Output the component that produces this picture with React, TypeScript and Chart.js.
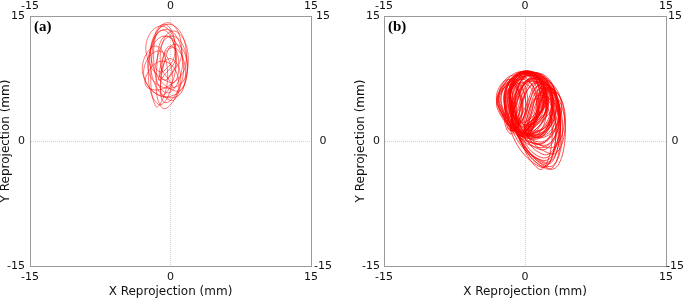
import React, { useEffect, useRef } from "react";
import { Chart, registerables } from "chart.js";

Chart.register(...registerables);

// Axis ticks
const tickValues = [-15, 0, 15];
const axisMin = -15;
const axisMax = 15;
const xTitle = "X Reprojection (mm)";
const yTitle = "Y Reprojection (mm)";

// Panel (a) trajectory (mm): each loop bottom, right, top, left
const aX = [
  -0.3, 1.2, -0.3, -1.8,
  -0.5, 1.3, -0.5, -2.3,
  -1.3, 0.2, -1.3, -2.8,
  0.1, 1.8, 0.1, -1.6,
  -0.7, 0.5, -0.7, -1.9,
  -1.6, -0.3, -1.6, -2.9,
  0.2, 1.6, 0.2, -1.2,
  -0.4, 0.6, -0.4, -1.4,
  -0.9, 0.9, -0.9, -2.7,
  -0.2, 1.7, -0.2, -2.1,
  0.5, 1.8, 0.5, -0.8,
  -0.8, 0.6, -0.8, -2.2,
  -0.1, 1.1, -0.1, -1.3,
  -1.0, 0.6, -1.0, -2.6,
  0.0, 0.9, 0.0, -0.9,
  -0.6, 1.4, -0.6, -2.4,
  0.3, 1.9, 0.3, -1.1,
  0.3,
];
const aY = [
  7.4, 10.8, 14.2, 10.8,
  5.8, 9.6, 13.4, 9.6,
  4.4, 7.6, 10.8, 7.6,
  5.4, 9.0, 12.6, 9.0,
  8.4, 11.2, 14.0, 11.2,
  4.2, 7.8, 11.4, 7.8,
  5.2, 8.2, 11.2, 8.2,
  7.4, 10.0, 12.6, 10.0,
  4.0, 6.8, 9.6, 6.8,
  6.6, 10.3, 14.0, 10.3,
  6.0, 8.8, 11.6, 8.8,
  5.5, 9.4, 13.3, 9.4,
  4.9, 7.4, 9.9, 7.4,
  7.4, 10.6, 13.8, 10.6,
  7.0, 9.2, 11.4, 9.2,
  4.6, 8.6, 12.6, 8.6,
  6.4, 9.8, 13.2, 9.8,
  6.4,
];

// Panel (b) trajectory (mm)
const bX = [
  0.3, 2.3, 0.3, -1.7,
  0.8, 3.0, 0.8, -1.4,
  -0.2, 1.7, -0.2, -2.1,
  1.2, 3.2, 1.2, -0.8,
  -1.5, -0.3, -1.5, -2.7,
  0.5, 2.8, 0.5, -1.8,
  2.0, 3.8, 2.0, 0.2,
  0.0, 2.0, 0.0, -2.0,
  1.0, 3.1, 1.0, -1.1,
  -1.4, 0.1, -1.4, -2.9,
  0.6, 3.0, 0.6, -1.8,
  2.3, 4.0, 2.3, 0.6,
  0.2, 2.0, 0.2, -1.6,
  1.4, 3.6, 1.4, -0.8,
  -0.5, 1.5, -0.5, -2.5,
  0.9, 2.9, 0.9, -1.1,
  1.8, 3.8, 1.8, -0.2,
  0.1, 2.2, 0.1, -2.0,
  -1.6, -0.3, -1.6, -2.9,
  0.7, 2.9, 0.7, -1.5,
  2.5, 4.3, 2.5, 0.7,
  0.4, 2.4, 0.4, -1.6,
  1.1, 3.4, 1.1, -1.2,
  -0.3, 1.5, -0.3, -2.1,
  1.5, 3.6, 1.5, -0.6,
  0.2, 2.1, 0.2, -1.7,
  0.9, 3.4, 0.9, -1.6,
  2.1, 3.7, 2.1, 0.5,
  -0.1, 1.9, -0.1, -2.1,
  0.6, 2.3, 0.6, -1.1,
  -1.3, 0.1, -1.3, -2.7,
  1.3, 3.5, 1.3, -0.9,
  0.3, 1.9, 0.3, -1.3,
  1.9, 3.8, 1.9, 0.0,
  0.5, 2.5, 0.5, -1.5,
  0.0, 2.2, 0.0, -2.2,
  1.6, 3.3, 1.6, -0.1,
  0.8, 2.9, 0.8, -1.3,
  -1.7, -0.5, -1.7, -2.9,
  1.2, 3.6, 1.2, -1.2,
  0.3, 2.1, 0.3, -1.5,
  2.6, 4.3, 2.6, 0.9,
  -0.6, 1.3, -0.6, -2.5,
  1.0, 3.0, 1.0, -1.0,
  1.4, 2.9, 1.4, -0.1,
  0.1, 2.4, 0.1, -2.2,
  1.7, 3.7, 1.7, -0.3,
  -1.2, 0.3, -1.2, -2.7,
  0.6, 2.8, 0.6, -1.6,
  2.2, 3.8, 2.2, 0.6,
  0.4, 2.3, 0.4, -1.5,
  1.3, 3.9, 1.3, -1.3,
  -0.4, 1.3, -0.4, -2.1,
  1.8, 3.6, 1.8, 0.0,
  0.2, 2.3, 0.2, -1.9,
  -1.5, -0.2, -1.5, -2.8,
  1.0, 3.3, 1.0, -1.3,
  2.4, 4.2, 2.4, 0.6,
  0.5, 2.5, 0.5, -1.5,
  1.7, 3.3, 1.7, 0.1,
  -0.2, 1.8, -0.2, -2.2,
  0.8, 2.9, 0.8, -1.3,
  0.0, 1.6, 0.0, -1.6,
  1.5, 3.7, 1.5, -0.7,
  0.4,
];
const bY = [
  0.9, 4.5, 8.1, 4.5,
  0.4, 4.2, 8.0, 4.2,
  1.3, 4.8, 8.3, 4.8,
  -0.4, 3.5, 7.4, 3.5,
  1.2, 4.0, 6.8, 4.0,
  0.9, 4.6, 8.3, 4.6,
  -2.5, 2.0, 6.5, 2.0,
  1.6, 5.0, 8.4, 5.0,
  0.4, 4.0, 7.6, 4.0,
  1.2, 4.2, 7.2, 4.2,
  0.9, 4.4, 7.9, 4.4,
  -3.0, 1.6, 6.2, 1.6,
  1.2, 4.8, 8.4, 4.8,
  -0.1, 3.8, 7.7, 3.8,
  0.7, 4.5, 8.3, 4.5,
  0.7, 4.1, 7.5, 4.1,
  -2.0, 2.4, 6.8, 2.4,
  1.8, 5.1, 8.4, 5.1,
  0.9, 3.8, 6.7, 3.8,
  0.9, 4.6, 8.3, 4.6,
  -3.3, 1.3, 5.9, 1.3,
  0.4, 4.3, 8.2, 4.3,
  1.2, 4.7, 8.2, 4.7,
  0.6, 4.0, 7.4, 4.0,
  -0.8, 3.2, 7.2, 3.2,
  2.0, 5.2, 8.4, 5.2,
  0.6, 4.4, 8.2, 4.4,
  -2.7, 1.8, 6.3, 1.8,
  1.0, 4.6, 8.2, 4.6,
  0.6, 3.9, 7.2, 3.9,
  1.1, 4.3, 7.5, 4.3,
  0.5, 4.2, 7.9, 4.2,
  1.9, 4.9, 7.9, 4.9,
  -1.6, 2.6, 6.8, 2.6,
  0.9, 4.4, 7.9, 4.4,
  0.5, 4.3, 8.1, 4.3,
  -3.1, 1.2, 5.5, 1.2,
  1.4, 4.8, 8.2, 4.8,
  1.4, 4.4, 7.4, 4.4,
  -0.3, 3.6, 7.5, 3.6,
  1.7, 5.0, 8.3, 5.0,
  -1.5, 2.4, 6.3, 2.4,
  0.6, 4.2, 7.8, 4.2,
  0.8, 4.5, 8.2, 4.5,
  -3.3, 0.9, 5.1, 0.9,
  1.1, 4.7, 8.3, 4.7,
  -0.5, 3.3, 7.1, 3.3,
  1.3, 4.6, 7.9, 4.6,
  0.3, 4.1, 7.9, 4.1,
  -3.3, 1.0, 5.3, 1.0,
  1.8, 5.1, 8.4, 5.1,
  0.4, 4.0, 7.6, 4.0,
  0.6, 3.8, 7.0, 3.8,
  -2.3, 2.0, 6.3, 2.0,
  0.9, 4.6, 8.3, 4.6,
  1.2, 4.1, 7.0, 4.1,
  0.7, 4.3, 7.9, 4.3,
  -0.8, 2.8, 6.4, 2.8,
  1.4, 4.8, 8.2, 4.8,
  -3.0, 1.4, 5.8, 1.4,
  0.8, 4.4, 8.0, 4.4,
  0.2, 3.7, 7.2, 3.7,
  2.3, 5.3, 8.3, 5.3,
  -1.0, 3.0, 7.0, 3.0,
  1.0,
];

type PanelProps = {
  xs: number[];
  ys: number[];
  label: string;
  width: number;
  leftW: number;
  rightW: number;
  leftPad: number;
  rightPad: number;
  titlePad: number;
  lineColor: string;
  lineWidth: number;
};

const tickFont = { family: "DejaVu Sans", size: 11 };
const titleFont = { family: "DejaVu Sans", size: 12 };
const borderColor = "#9a9a9a";

function Panel(props: PanelProps) {
  const ref = useRef<HTMLCanvasElement | null>(null);
  useEffect(() => {
    if (!ref.current) return;
    const pts = props.xs.map((x, i) => ({ x, y: props.ys[i] }));
    const zeroGrid = (ctx: any) =>
      ctx.tick && ctx.tick.value === 0 ? "#d2d2d2" : "rgba(0,0,0,0)";
    const ticksCb = {
      afterBuildTicks: (s: any) => {
        s.ticks = tickValues.map((v) => ({ value: v }));
      },
    };
    const labelPlugin = {
      id: "panelLabel",
      afterDraw(chart: any) {
        const c = chart.ctx;
        const a = chart.chartArea;
        c.save();
        c.font = 'bold 15px "Liberation Serif"';
        c.fillStyle = "#000";
        c.textBaseline = "alphabetic";
        c.textAlign = "left";
        c.fillText(props.label, a.left + 4, a.top + 15);
        c.restore();
      },
    };
    const chart = new Chart(ref.current, {
      type: "scatter",
      data: {
        datasets: [
          {
            data: pts,
            showLine: true,
            pointRadius: 0,
            borderColor: props.lineColor,
            borderWidth: props.lineWidth,
            tension: 0.55,
            fill: false,
          },
        ],
      },
      plugins: [labelPlugin],
      options: {
        animation: false,
        responsive: false,
        layout: { padding: 0 },
        plugins: { legend: { display: false }, tooltip: { enabled: false } },
        scales: {
          x: {
            type: "linear",
            position: "bottom",
            min: axisMin,
            max: axisMax,
            ...ticksCb,
            afterFit: (s: any) => {
              s.height = 33;
            },
            ticks: { color: "#111", font: tickFont, padding: 5, maxRotation: 0 },
            grid: { color: zeroGrid, drawTicks: false, lineWidth: 1 },
            border: { color: borderColor, width: 1, dash: [1, 1] },
            title: {
              display: true,
              text: xTitle,
              color: "#111",
              font: titleFont,
              padding: { top: 0, bottom: 0 },
            },
          },
          x2: {
            type: "linear",
            position: "top",
            min: axisMin,
            max: axisMax,
            ...ticksCb,
            afterFit: (s: any) => {
              s.height = 16;
            },
            ticks: { color: "#111", font: tickFont, padding: 3, maxRotation: 0 },
            grid: { display: false, drawTicks: false },
            border: { color: borderColor, width: 1 },
          },
          y: {
            type: "linear",
            position: "left",
            min: axisMin,
            max: axisMax,
            ...ticksCb,
            afterFit: (s: any) => {
              s.width = props.leftW;
            },
            ticks: { color: "#111", font: tickFont, padding: props.leftPad },
            grid: { color: zeroGrid, drawTicks: false, lineWidth: 1 },
            border: { color: borderColor, width: 1, dash: [1, 1] },
            title: {
              display: true,
              text: yTitle,
              color: "#111",
              font: titleFont,
              padding: { top: props.titlePad, bottom: 0 },
            },
          },
          y2: {
            type: "linear",
            position: "right",
            min: axisMin,
            max: axisMax,
            ...ticksCb,
            afterFit: (s: any) => {
              s.width = props.rightW;
            },
            ticks: {
              color: "#111",
              font: tickFont,
              padding: props.rightPad,
              crossAlign: "center",
            },
            grid: { display: false, drawTicks: false },
            border: { color: borderColor, width: 1 },
          },
        },
      },
    } as any);
    return () => chart.destroy();
  }, []);
  return (
    <canvas
      ref={ref}
      width={props.width}
      height={299}
      style={{ display: "block", width: props.width, height: 299 }}
    />
  );
}

export default function App() {
  return (
    <div
      style={{
        position: "fixed",
        left: 0,
        top: 0,
        width: 685,
        height: 299,
        display: "flex",
        background: "#fff",
      }}
    >
      <Panel xs={aX} ys={aY} label="(a)" width={342} leftW={30} rightW={31} leftPad={5} rightPad={3} titlePad={-1} lineColor="rgba(255,0,0,0.62)" lineWidth={0.9} />
      <Panel xs={bX} ys={bY} label="(b)" width={343} leftW={42} rightW={19} leftPad={4} rightPad={0} titlePad={12} lineColor="rgba(255,0,0,0.7)" lineWidth={1} />
    </div>
  );
}
